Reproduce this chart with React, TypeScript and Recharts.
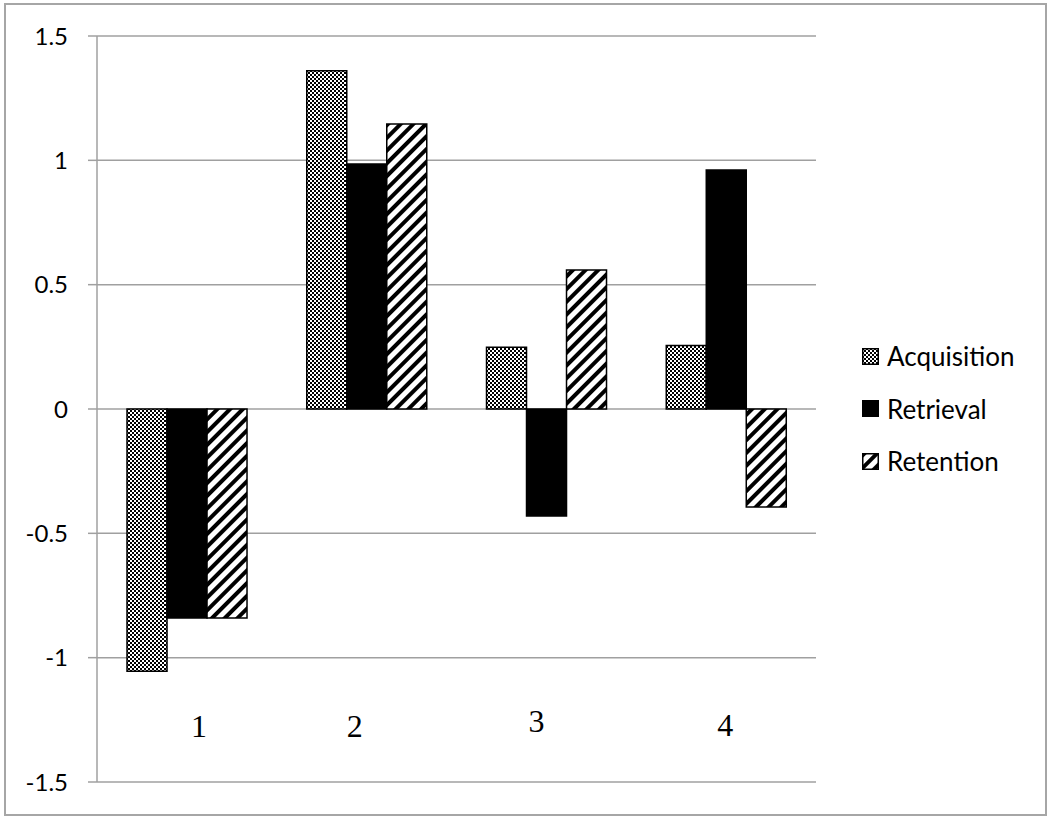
import React from 'react';
import { BarChart, Bar, XAxis, YAxis, CartesianGrid, Legend } from 'recharts';

const categories = ['1', '2', '3', '4'];
const seriesNames = ['Acquisition', 'Retrieval', 'Retention'];
const acquisition = [-1.055, 1.36, 0.248, 0.255];
const retrieval = [-0.84, 0.985, -0.43, 0.961];
const retention = [-0.84, 1.146, 0.559, -0.394];
const yTicks = [-1.5, -1, -0.5, 0, 0.5, 1, 1.5];

const data = categories.map((c, i) => ({
  name: c,
  Acquisition: acquisition[i],
  Retrieval: retrieval[i],
  Retention: retention[i],
}));

const fills: Record<string, string> = {
  Acquisition: 'url(#checker)',
  Retrieval: '#000',
  Retention: 'url(#hatch)',
};

// category labels in the original sit a little off-centre
const labelNudge = [12, -12, -10, -1];
const labelLift = [45, 45, 50, 46];

const CategoryTick = (props: any) => {
  const { x, y, payload, index } = props;
  return (
    <text
      x={x + (labelNudge[index] ?? 0)}
      y={y - (labelLift[index] ?? 45)}
      textAnchor="middle"
      fontFamily="'Liberation Serif', serif"
      fontSize={32}
      fill="#000"
    >
      {payload.value}
    </text>
  );
};

const LegendBox = () => (
  <div>
    {seriesNames.map((name) => (
      <div key={name} style={{ display: 'flex', alignItems: 'center', height: 52.5 }}>
        <svg width={17} height={17} style={{ marginRight: 8 }}>
          <rect x={0.75} y={0.75} width={15.5} height={15.5} fill={fills[name]} stroke="#000" strokeWidth={1.5} />
        </svg>
        <span style={{ fontFamily: 'Lato, sans-serif', fontSize: 26, color: '#000' }}>{name}</span>
      </div>
    ))}
  </div>
);

export default function App() {
  return (
    <div style={{ position: 'absolute', left: 0, top: 0, width: 1050, height: 821, background: '#fff' }}>
      <div
        style={{
          position: 'absolute',
          left: 4,
          top: 3,
          width: 1039,
          height: 809,
          border: '2px solid #a6a6a6',
        }}
      />
      <div style={{ position: 'absolute', left: 0, top: 0 }}>
        <BarChart
          width={1050}
          height={821}
          data={data}
          margin={{ top: 36, right: 234, bottom: 9, left: 0 }}
          barCategoryGap="16.7%"
          barGap={0}
        >
          <defs>
            <pattern id="checker" width={4} height={4} patternUnits="userSpaceOnUse">
              <rect width={4} height={4} fill="#fff" />
              <rect x={0} y={0} width={2} height={2} fill="#000" />
              <rect x={2} y={2} width={2} height={2} fill="#000" />
            </pattern>
            <pattern
              id="hatch"
              width={9}
              height={9}
              patternUnits="userSpaceOnUse"
              patternTransform="rotate(45)"
            >
              <rect width={9} height={9} fill="#fff" />
              <rect x={0} y={0} width={4} height={9} fill="#000" />
            </pattern>
          </defs>
          <CartesianGrid vertical={false} stroke="#a0a0a0" strokeWidth={1.5} />
          <XAxis
            dataKey="name"
            height={30}
            axisLine={false}
            tickLine={false}
            tickSize={0}
            tickMargin={0}
            tick={<CategoryTick />}
            interval={0}
          />
          <YAxis
            width={97}
            domain={[-1.5, 1.5]}
            ticks={yTicks}
            allowDataOverflow
            axisLine={{ stroke: '#a0a0a0', strokeWidth: 1.5 }}
            tickLine={{ stroke: '#a0a0a0', strokeWidth: 1.5 }}
            tickSize={9}
            tickMargin={20}
            tick={{ fontFamily: 'Lato, sans-serif', fontSize: 24, fill: '#000' }}
          />
          <Legend
            layout="vertical"
            align="center"
            verticalAlign="middle"
            content={<LegendBox />}
            wrapperStyle={{ left: 862, top: 330, width: 180 }}
          />
          <Bar dataKey="Acquisition" fill="url(#checker)" stroke="#000" strokeWidth={1.5} isAnimationActive={false} />
          <Bar dataKey="Retrieval" fill="#000" stroke="#000" strokeWidth={1.5} isAnimationActive={false} />
          <Bar dataKey="Retention" fill="url(#hatch)" stroke="#000" strokeWidth={1.5} isAnimationActive={false} />
        </BarChart>
      </div>
    </div>
  );
}
